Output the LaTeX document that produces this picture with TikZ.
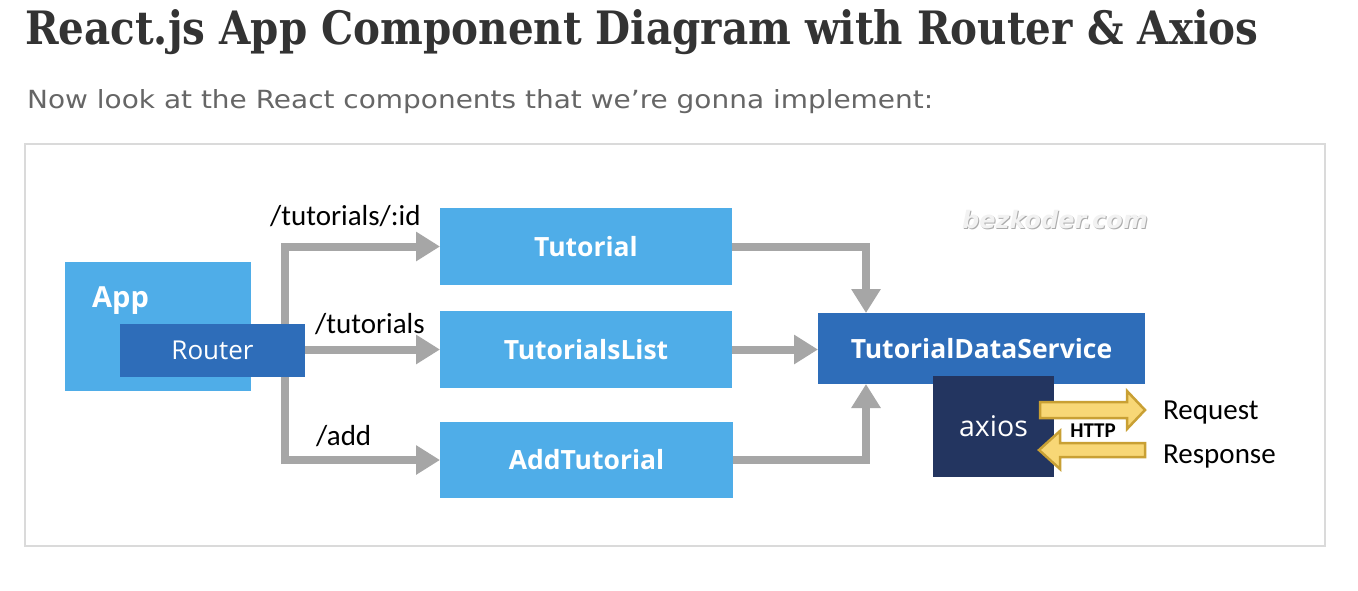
\documentclass[tikz,border=0pt]{standalone}
\usepackage{fontspec}
\usepackage{graphicx}
\setmainfont{Open Sans}
\newfontfamily\segoe{Open Sans}
\newfontfamily\cali{Carlito}
\newfontfamily\slab{DejaVu Serif}
\newfontfamily\verd{DejaVu Sans}
\usetikzlibrary{arrows.meta}
\definecolor{lblue}{HTML}{4FADE8}
\definecolor{dblue}{HTML}{2E6DB9}
\definecolor{navy}{HTML}{233560}
\definecolor{cgray}{HTML}{A6A6A6}
\definecolor{yfill}{HTML}{F8D776}
\definecolor{yedge}{HTML}{C9A034}
\definecolor{titlec}{HTML}{333333}
\definecolor{subc}{HTML}{666666}
\definecolor{framec}{HTML}{DADADA}
\tikzset{
  box/.style={inner sep=0pt, outer sep=0pt, text=white},
  lbox/.style={box, fill=lblue, font=\segoe\bfseries\fontsize{26.5}{26.5}\selectfont},
  dbox/.style={box, fill=dblue},
  conn/.style={draw=cgray, line width=8pt, line join=miter, -{Triangle[length=24pt,width=28pt]}},
  lbl/.style={inner sep=0pt, anchor=base west, font=\cali\fontsize{29}{29}\selectfont, text=black},
  yarr/.style={fill=yfill, draw=yedge, line width=2.5pt, line join=miter}
}
\begin{document}
\begin{tikzpicture}[x=1pt,y=-1pt]
\useasboundingbox (0,0) rectangle (1358,590);
\fill[white] (0,0) rectangle (1358,590);
% title and subtitle
\node[inner sep=0pt, anchor=base west, text=titlec] (title) at (25,44)
  {\resizebox{1233pt}{\height}{\slab\bfseries\fontsize{46}{46}\selectfont React.js App Component Diagram with Router \& Axios}};
\node[inner sep=0pt, anchor=base west, text=subc] (sub) at (27,108)
  {\resizebox{906pt}{\height}{\verd\fontsize{25}{25}\selectfont Now look at the React components that we’re gonna implement:}};
% frame
\draw[framec, line width=1.5pt] (25,144) rectangle (1325,546);
% watermark
\node[inner sep=0pt, text=gray!65, font=\verd\bfseries\itshape\fontsize{24}{24}\selectfont] (wmshadow) at (1056,221) {bezkoder.com};
\node[inner sep=0pt, text=gray!10, font=\verd\bfseries\itshape\fontsize{24}{24}\selectfont] (wm) at (1055,220) {bezkoder.com};
% App and Router
\node[box, fill=lblue, minimum width=186pt, minimum height=129pt] (app) at (158,326.5) {};
\node[inner sep=0pt, anchor=base west, text=white, font=\segoe\bfseries\fontsize{29}{29}\selectfont] (applbl) at (92,307) {App};
% components
\node[lbox, minimum width=292pt, minimum height=77pt] (tut) at (586,246.5) {Tutorial};
\node[lbox, minimum width=292pt, minimum height=77pt] (list) at (586,349.5) {TutorialsList};
\node[lbox, minimum width=293pt, minimum height=76pt] (add) at (586.5,460) {AddTutorial};
% router connectors
\coordinate (trunkbot) at (285,464);
\coordinate (addstart) at (281,460);
\draw[conn] (trunkbot) |- (tut.west);
\draw[conn] (addstart) -- (add.west);
\node[dbox, minimum width=185pt, minimum height=53pt, font=\segoe\fontsize{26}{26}\selectfont] (router) at (212.5,350.5) {Router};
\draw[conn] (router.east |- list.west) -- (list.west);
% labels
\node[lbl] (l1) at (270,225) {/tutorials/:id};
\node[lbl] (l2) at (315,333) {/tutorials};
\node[lbl] (l3) at (316,445) {/add};
% data service
\node[dbox, minimum width=327pt, minimum height=71pt, font=\segoe\bfseries\fontsize{26.5}{26.5}\selectfont] (tds) at (981.5,348.5) {TutorialDataService};
\draw[conn] (tut.east) -| ([xshift=-115.5pt]tds.north);
\draw[conn] (list.east) -- (list.east -| tds.west);
\draw[conn] (add.east) -| ([xshift=-115.5pt]tds.south);
\node[box, fill=navy, minimum width=121pt, minimum height=101pt, font=\segoe\fontsize{28.5}{28.5}\selectfont] (axios) at (993.5,426.5) {axios};
% HTTP arrows
\draw[yarr] (1040,402) -- (1127,402) -- (1127,391) -- (1145,410) -- (1127,429) -- (1127,418) -- (1040,418) -- cycle;
\draw[yarr] (1145,443) -- (1060,443) -- (1060,431) -- (1039,450) -- (1060,469) -- (1060,457) -- (1145,457) -- cycle;
\node[inner sep=0pt, font=\cali\bfseries\fontsize{21}{21}\selectfont] (http) at (1093,431) {HTTP};
\node[lbl] (req) at (1163,419) {Request};
\node[lbl] (resp) at (1163,463) {Response};
\end{tikzpicture}
\end{document}
